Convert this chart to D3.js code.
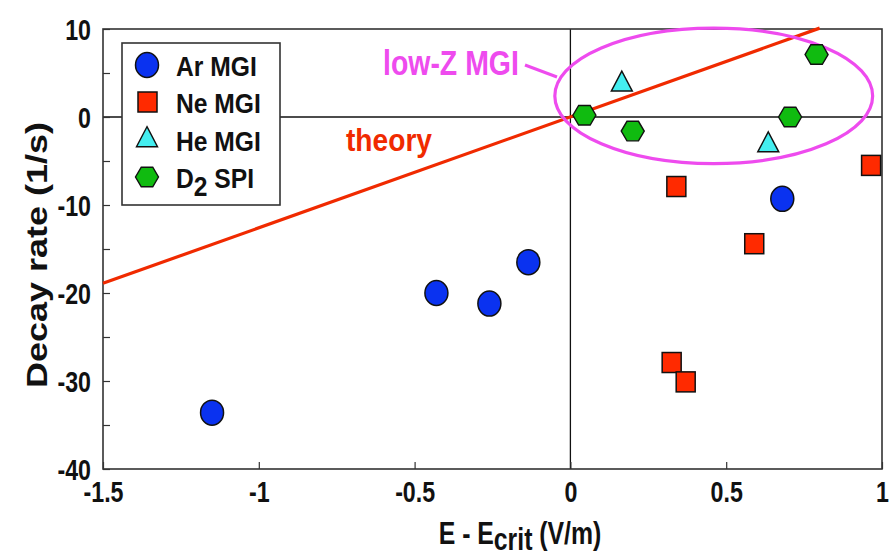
<!DOCTYPE html>
<html>
<head>
<meta charset="utf-8">
<script src="https://cdn.jsdelivr.net/npm/d3@7"></script>
<style>
    body { margin: 0; background: #fff; }
    text { font-family: "Liberation Sans", Arial, Helvetica, sans-serif; font-weight: bold; }
</style>
</head>
<body>
<div id="chart"></div>
<script>
// Data
var arX = [-1.15, -0.43, -0.26, -0.135, 0.68];
var arY = [-33.6, -20.0, -21.2, -16.5, -9.3];
var neX = [0.34, 0.59, 0.325, 0.37, 0.965];
var neY = [-7.9, -14.4, -27.9, -30.1, -5.5];
var heX = [0.165, 0.635];
var heY = [3.7, -3.2];
var d2X = [0.045, 0.2, 0.705, 0.79];
var d2Y = [0.2, -1.6, 0.0, 7.1];
var theoryX = [-1.5, 0.8];
var theoryY = [-18.9, 10.1];
var xTicks = [-1.5, -1, -0.5, 0, 0.5, 1];
var yTicks = [10, 0, -10, -20, -30, -40];
var legendLabels = ['Ar MGI', 'Ne MGI', 'He MGI', 'D2 SPI'];

function zip(xs, ys) {
    return xs.map(function(d, i) { return { x: d, y: ys[i] }; });
}

// the original text is condensed, so squeeze it horizontally
function label(parent, px, py, sx, size, fill, txt) {
    return parent.append("text")
        .attr("transform", "translate(" + px + "," + py + ") scale(" + sx + ",1)")
        .style("font-size", size + "px")
        .attr("fill", fill)
        .text(txt);
}

var margin = { top: 29, right: 11, bottom: 87, left: 103 };
var width = 893 - margin.left - margin.right;
var height = 556 - margin.top - margin.bottom;

var svg = d3.select("#chart").append("svg")
    .attr("width", 893)
    .attr("height", 556)
    .append("g")
    .attr("transform", "translate(" + margin.left + "," + margin.top + ")");

var x = d3.scaleLinear().domain([-1.5, 1]).range([0, width]);
var y = d3.scaleLinear().domain([-40, 10]).range([height, 0]);

// zero lines
svg.append("line")
    .attr("x1", x(0)).attr("x2", x(0))
    .attr("y1", 0).attr("y2", height)
    .attr("stroke", "#111").attr("stroke-width", 1.3);
svg.append("line")
    .attr("x1", 0).attr("x2", width)
    .attr("y1", y(0)).attr("y2", y(0))
    .attr("stroke", "#111").attr("stroke-width", 1.3);

// frame
svg.append("rect")
    .attr("width", width).attr("height", height)
    .attr("fill", "none").attr("stroke", "#333").attr("stroke-width", 1.6);

// axes (inward ticks)
var xAxis = d3.axisBottom(x).tickValues(xTicks).tickSize(-7)
    .tickFormat(function(d) { return String(d); });
var yAxis = d3.axisLeft(y).tickValues(d3.range(-40, 11, 5)).tickSize(-7)
    .tickFormat(function(d) { return yTicks.indexOf(d) >= 0 ? String(d) : ""; });

var gx = svg.append("g").attr("transform", "translate(0," + height + ")").call(xAxis);
var gy = svg.append("g").call(yAxis);
[gx, gy].forEach(function(g) {
    g.select(".domain").remove();
    g.selectAll(".tick line").attr("stroke", "#333").attr("stroke-width", 1.2);
    g.selectAll(".tick text").attr("fill", "#111").style("font-size", "29px")
        .attr("x", 0).attr("y", 0);
});
gx.selectAll(".tick text").attr("dy", 0).attr("transform", "translate(0,33) scale(0.8,1)");
gy.selectAll(".tick text").attr("dy", "0.36em").attr("transform", "translate(-12,0) scale(0.8,1)");

// axis titles
var xl = svg.append("text")
    .attr("transform", "translate(417," + (height + 75) + ") scale(0.8,1)")
    .attr("text-anchor", "middle")
    .style("font-size", "31px").attr("fill", "#111");
xl.append("tspan").text("E - E");
xl.append("tspan").text("crit").attr("dy", 6);
xl.append("tspan").text(" (V/m)").attr("dy", -6);

svg.append("text")
    .attr("transform", "translate(" + (-56) + "," + (height / 2 + 6) + ") rotate(-90) scale(1.2,1)")
    .attr("text-anchor", "middle")
    .style("font-size", "30px").attr("fill", "#111")
    .text("Decay rate (1/s)");

// theory line
var line = d3.line().x(function(d) { return x(d.x); }).y(function(d) { return y(d.y); });
svg.append("path")
    .datum(zip(theoryX, theoryY))
    .attr("d", line)
    .attr("fill", "none").attr("stroke", "#f02a00").attr("stroke-width", 3.2);

label(svg, 243, 122, 0.88, 32, "#f02a00", "theory");

// low-Z annotation ellipse
var ell = { cx: 0.46, cy: 2.4, rx: 0.51, ry: 7.7 };
svg.append("ellipse")
    .attr("cx", x(ell.cx)).attr("cy", y(ell.cy))
    .attr("rx", x(ell.cx + ell.rx) - x(ell.cx))
    .attr("ry", y(ell.cy - ell.ry) - y(ell.cy))
    .attr("fill", "none").attr("stroke", "#ee4bee").attr("stroke-width", 3.2);
svg.append("line")
    .attr("x1", 422).attr("y1", 36).attr("x2", 454).attr("y2", 48)
    .attr("stroke", "#ee4bee").attr("stroke-width", 3);
label(svg, 280, 46, 0.79, 36, "#ee4bee", "low-Z MGI");

// markers
var ink = "#111";
function hexPath(cx, cy, r) {
    var pts = d3.range(6).map(function(k) {
        var a = k * Math.PI / 3;
        return [cx + r * Math.cos(a), cy + r * 0.98 * Math.sin(a)];
    });
    return "M" + pts.join("L") + "Z";
}

svg.selectAll(".ar").data(zip(arX, arY)).enter().append("ellipse")
    .attr("class", "ar")
    .attr("cx", function(d) { return x(d.x); })
    .attr("cy", function(d) { return y(d.y); })
    .attr("rx", 11.5).attr("ry", 12.5)
    .attr("fill", "#0a32f0").attr("stroke", ink).attr("stroke-width", 1.5);

svg.selectAll(".ne").data(zip(neX, neY)).enter().append("rect")
    .attr("class", "ne")
    .attr("x", function(d) { return x(d.x) - 9.5; })
    .attr("y", function(d) { return y(d.y) - 10; })
    .attr("width", 19).attr("height", 20)
    .attr("fill", "#ff2a00").attr("stroke", ink).attr("stroke-width", 1.5);

var tri = d3.symbol().type(d3.symbolTriangle).size(190);
svg.selectAll(".he").data(zip(heX, heY)).enter().append("path")
    .attr("class", "he")
    .attr("transform", function(d) { return "translate(" + x(d.x) + "," + y(d.y) + ") scale(1,1.1)"; })
    .attr("d", tri)
    .attr("fill", "#44eef0").attr("stroke", ink).attr("stroke-width", 1.4);

svg.selectAll(".d2").data(zip(d2X, d2Y)).enter().append("path")
    .attr("class", "d2")
    .attr("d", function(d) { return hexPath(x(d.x), y(d.y), 11.5); })
    .attr("fill", "#10bb10").attr("stroke", ink).attr("stroke-width", 1.4);

// legend
var lg = svg.append("g").attr("transform", "translate(19,14)");
lg.append("rect")
    .attr("width", 158).attr("height", 162)
    .attr("fill", "#fff").attr("stroke", "#333").attr("stroke-width", 1.6);
var rowY = [22, 59, 97, 134];
lg.append("ellipse").attr("cx", 25).attr("cy", rowY[0]).attr("rx", 11.5).attr("ry", 12.5)
    .attr("fill", "#0a32f0").attr("stroke", ink).attr("stroke-width", 1.5);
lg.append("rect").attr("x", 16).attr("y", rowY[1] - 10).attr("width", 19).attr("height", 20)
    .attr("fill", "#ff2a00").attr("stroke", ink).attr("stroke-width", 1.5);
lg.append("path").attr("transform", "translate(25," + rowY[2] + ") scale(1,1.1)").attr("d", tri)
    .attr("fill", "#44eef0").attr("stroke", ink).attr("stroke-width", 1.4);
lg.append("path").attr("d", hexPath(25, rowY[3], 11.5))
    .attr("fill", "#10bb10").attr("stroke", ink).attr("stroke-width", 1.4);

legendLabels.forEach(function(d, i) {
    var t = label(lg, 54, rowY[i] + 11, 0.88, 28, "#111", d.indexOf("D2") === 0 ? null : d);
    if (d.indexOf("D2") === 0) {
        t.append("tspan").text("D");
        t.append("tspan").text("2").attr("dy", 8);
        t.append("tspan").text(" SPI").attr("dy", -8);
    }
});
</script>
</body>
</html>
